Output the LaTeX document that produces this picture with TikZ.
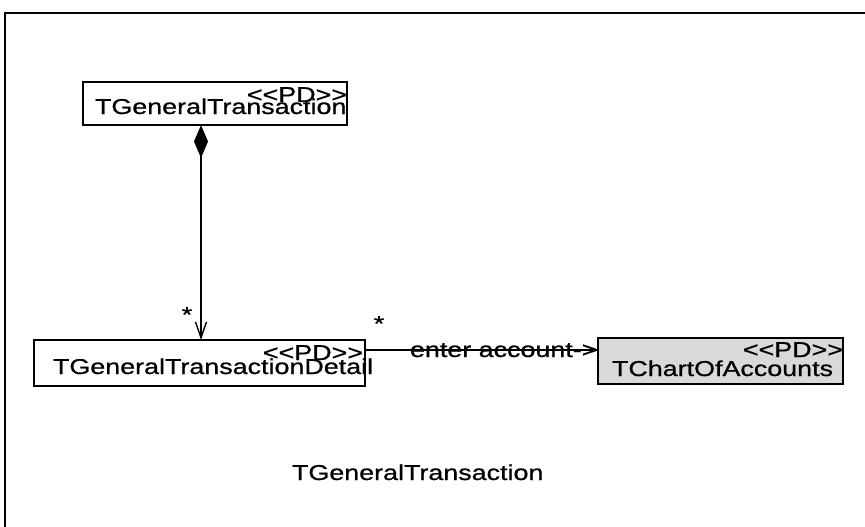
\documentclass[tikz,border=0pt]{standalone}
\usepackage{fontspec}
\newfontfamily\umlfont{Liberation Sans}[FakeStretch=1.25,FakeBold=0.8]
\usetikzlibrary{arrows.meta}
\begin{document}
\begin{tikzpicture}[x=1pt,y=-1pt,
  every node/.style={font=\umlfont\fontsize{21.5}{24}\selectfont, inner sep=0pt, outer sep=0pt},
  classbox/.style={draw, line width=1.4pt},
  conn/.style={line width=1.4pt},
  frameline/.style={line width=1.6pt}]
\useasboundingbox (0,0) rectangle (865,527);
% frame
\draw[frameline] (5,527) -- (5,13) -- (865,13);
% class boxes
\node[classbox, minimum width=264pt, minimum height=43pt] (b1) at (215,103.5) {};
\node[classbox, minimum width=331pt, minimum height=46pt] (b2) at (199.5,363) {};
\node[classbox, fill=black!15, minimum width=245pt, minimum height=46pt] (b3) at (720.5,361) {};
% texts in boxes
\node[anchor=base west] (t1) at (95,114) {TGeneralTransaction};
\node[anchor=base east] (s1) at (347,102) {<\kern0pt<PD>\kern0pt>};
\node[anchor=base west] (t2) at (53,374) {TGeneralTransactionDetail};
\node[anchor=base east] (s2) at (363,360) {<\kern0pt<PD>\kern0pt>};
\node[anchor=base west] (t3) at (612,376) {TChartOfAccounts};
\node[anchor=base east] (s3) at (843,357) {<\kern0pt<PD>\kern0pt>};
% composition
\draw[conn, {Diamond[length=33pt,width=14pt]}-{Straight Barb[length=16pt,width=11pt]}]
  ([xshift=-14pt]b1.south) -- ([xshift=1.5pt]b2.north);
\node[anchor=base] (m1) at (187,322) {*};
% association
\draw[conn] ([yshift=13pt]b2.east) -- ([yshift=11pt]b3.west);
\node[anchor=base west] (lab) at (410,357) {enter account->};
\node[anchor=base] (m2) at (379,331) {*};
% caption
\node[anchor=base west] (cap) at (292,480) {TGeneralTransaction};
\end{tikzpicture}
\end{document}
